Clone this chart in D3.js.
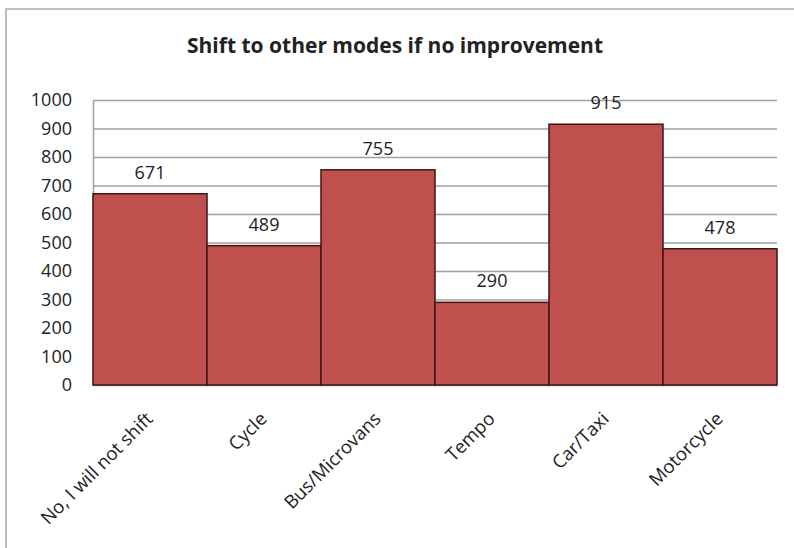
<!DOCTYPE html>
<html>
<head>
<meta charset="utf-8">
<script src="https://cdn.jsdelivr.net/npm/d3@7"></script>
<style>
  body { margin: 0; background: #fff; }
  text { font-family: "Open Sans", "Liberation Sans", sans-serif; fill: #222; }
</style>
</head>
<body>
<div id="chart"></div>
<script>
// values
const modes = ["No, I will not shift", "Cycle", "Bus/Microvans", "Tempo", "Car/Taxi", "Motorcycle"];
const counts = [671, 489, 755, 290, 915, 478];
const yTicks = [0, 100, 200, 300, 400, 500, 600, 700, 800, 900, 1000];
const title = "Shift to other modes if no improvement";

const W = 794, H = 548;
const margin = {top: 100, right: 17, bottom: 163, left: 93};
const width = W - margin.left - margin.right,
      height = H - margin.top - margin.bottom;

const svg = d3.select("#chart").append("svg")
  .attr("width", W).attr("height", H);

// outer chart border
svg.append("rect")
  .attr("x", 6).attr("y", 9)
  .attr("width", 800).attr("height", 600)
  .attr("fill", "none").attr("stroke", "#a8a8a8").attr("stroke-width", 1.5);

svg.append("text")
  .attr("x", 395).attr("y", 53)
  .attr("text-anchor", "middle")
  .style("font-size", "21px").style("font-weight", "bold")
  .text(title);

const g = svg.append("g").attr("transform", "translate(" + margin.left + "," + margin.top + ")");

const x = d3.scaleBand().domain(modes).range([0, width]).padding(0);
const y = d3.scaleLinear().domain([0, 1000]).range([height, 0]);

// gridlines
g.append("g")
  .call(d3.axisLeft(y).tickValues(yTicks).tickSize(-width).tickFormat(""))
  .call(s => s.select(".domain").remove())
  .call(s => s.selectAll("line").attr("stroke", "#a0a0a0").attr("stroke-width", 1.5));

// y tick labels
g.append("g")
  .call(d3.axisLeft(y).tickValues(yTicks).tickSize(0).tickPadding(21).tickFormat(d3.format("d")))
  .call(s => s.select(".domain").attr("stroke", "#a0a0a0").attr("stroke-width", 1.5))
  .call(s => s.selectAll("text").style("font-size", "18px").attr("fill", "#222"));

// bars
g.selectAll("rect.bar")
  .data(counts)
  .enter().append("rect")
  .attr("class", "bar")
  .attr("x", (d, i) => x(modes[i]))
  .attr("y", d => y(d))
  .attr("width", x.bandwidth())
  .attr("height", d => height - y(d))
  .attr("fill", "#c0504d")
  .attr("stroke", "#3f1614")
  .attr("stroke-width", 1.5);

// value labels
g.selectAll("text.val")
  .data(counts)
  .enter().append("text")
  .attr("class", "val")
  .attr("x", (d, i) => x(modes[i]) + x.bandwidth() / 2)
  .attr("y", d => y(d) - 15)
  .attr("text-anchor", "middle")
  .style("font-size", "18px")
  .text(d => d);

// x axis labels rotated
const xa = g.append("g")
  .attr("transform", "translate(0," + height + ")")
  .call(d3.axisBottom(x).tickSize(0).tickPadding(0));
xa.select(".domain").remove();
xa.selectAll("text")
  .style("font-size", "18.5px")
  .attr("fill", "#222")
  .attr("text-anchor", "end")
  .attr("dy", "0")
  .attr("transform", "translate(4,35) rotate(-45)");
</script>
</body>
</html>
